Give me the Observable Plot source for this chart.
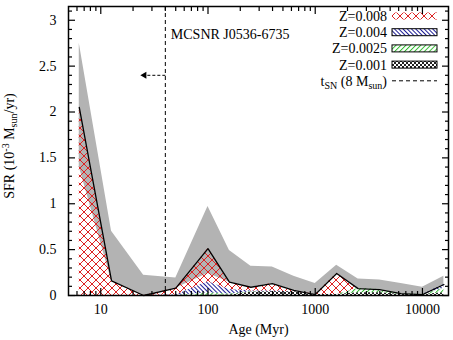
<!DOCTYPE html>
<html><head><meta charset="utf-8">
<script src="https://cdn.jsdelivr.net/npm/d3@7"></script>
<script src="https://cdn.jsdelivr.net/npm/@observablehq/plot@0.6"></script>
<style>body{margin:0;background:#fff} svg text{font-family:"Liberation Serif",serif}</style>
</head><body><div id="chart"></div>
<script>
// ---- data ----
const ages   = [6.3, 12.6, 25.1, 50.1, 100, 158.5, 251.2, 398.1, 631, 1000, 1585, 2512, 3981, 6310, 10000, 15849];
const total  = [2.05, 0.16, 0.0, 0.08, 0.51, 0.145, 0.09, 0.13, 0.055, 0.01, 0.24, 0.075, 0.065, 0.02, 0.01, 0.12];
const upper  = [2.75, 0.70, 0.22, 0.19, 0.97, 0.49, 0.32, 0.31, 0.21, 0.13, 0.33, 0.18, 0.17, 0.13, 0.09, 0.21];
const lower  = [1.40, 0.16, 0.0, 0.08, 0.24, 0.145, 0.09, 0.13, 0.055, 0.01, 0.24, 0.075, 0.065, 0.02, 0.01, 0.12];
const metallicities = ["Z=0.001", "Z=0.0025", "Z=0.004", "Z=0.008"];
const sfrZ001  = [0, 0, 0, 0, 0, 0.005, 0.035, 0.04, 0.04, 0.01, 0.01, 0.03, 0.03, 0.01, 0.01, 0.03];
const sfrZ0025 = [0, 0, 0, 0, 0.03, 0.01, 0.005, 0, 0, 0, 0, 0.045, 0.035, 0.01, 0, 0.05];
const sfrZ004  = [0, 0, 0, 0.005, 0.12, 0.05, 0.01, 0.01, 0, 0, 0, 0, 0, 0, 0, 0.04];
const sfrZ008  = [2.05, 0.16, 0, 0.075, 0.36, 0.08, 0.04, 0.08, 0.015, 0, 0.23, 0, 0, 0, 0, 0];
const xTicks = [10, 100, 1000, 10000];
const xTickLabels = ["10", "100", "1000", "10000"];
const yTicks = [0, 0.5, 1, 1.5, 2, 2.5, 3];
const yTickLabels = ["0", "0.5", "1", "1.5", "2", "2.5", "3"];
const snAge = 40;
const arrowEndAge = 25.5;
const arrowSFR = 2.4;
const annotation = "MCSNR J0536-6735";
const annotationAge = 45;
const annotationSFR = 2.85;
const legendLabels = ["Z=0.008", "Z=0.004", "Z=0.0025", "Z=0.001"];

// ---- derived tables ----
const band = ages.map((a, i) => ({age: a, lo: lower[i], hi: upper[i], tot: total[i]}));
const series = [sfrZ001, sfrZ0025, sfrZ004, sfrZ008];
const stackRows = [];
series.forEach((arr, k) => arr.forEach((v, i) => stackRows.push({age: ages[i], Z: metallicities[k], sfr: v})));
const xMinor = [];
[1, 10, 100, 1000, 10000].forEach(dec => [2,3,4,5,6,7,8,9].forEach(m => { const v = dec*m; if (v > 5 && v < 17500) xMinor.push(v); }));
const yMinor = d3.range(0, 32).map(i => i/10).filter(v => Math.abs(v*2 - Math.round(v*2)) > 1e-6);

const fills = ["url(#pchk)", "url(#pgrn)", "url(#pblu)", "url(#pred)"];
const font = "Liberation Serif";

const plot = Plot.plot({
  width: 453, height: 340,
  marginLeft: 68, marginRight: 5, marginTop: 6, marginBottom: 45,
  style: {fontFamily: font, fontSize: "14px", background: "white", color: "black"},
  x: {type: "log", domain: [5, 17500], label: null},
  y: {domain: [0, 3.15], label: null},
  color: {domain: metallicities, range: fills},
  marks: [
    Plot.areaY(band, {x: "age", y1: "lo", y2: "hi", fill: "#b3b3b3"}),
    Plot.areaY(stackRows, {x: "age", y: "sfr", z: "Z", fill: "Z"}),
    Plot.lineY(band, {x: "age", y: "tot", stroke: "black", strokeWidth: 1.3}),
    Plot.ruleX([snAge], {stroke: "black", strokeWidth: 1, strokeDasharray: "4,3"}),
    Plot.link([{a: snAge, b: arrowEndAge, s: arrowSFR}], {x1: "a", x2: "b", y1: "s", y2: "s", stroke: "black", strokeDasharray: "3,2"}),
    Plot.dot([{b: arrowEndAge, s: arrowSFR}], {x: "b", y: "s", symbol: "triangle", rotate: -90, r: 2.6, fill: "black", stroke: null}),
    Plot.text([annotation], {x: annotationAge, y: annotationSFR, text: d => d, textAnchor: "start", fontSize: 14, fontFamily: font}),
    // tick labels
    Plot.axisX({anchor: "bottom", ticks: xTicks, tickSize: 0, tickPadding: 9, fontSize: 14, fontFamily: font,
      tickFormat: d => xTickLabels[xTicks.indexOf(d)]}),
    Plot.axisY({anchor: "left", ticks: yTicks, tickSize: 0, tickPadding: 12, fontSize: 14, fontFamily: font,
      tickFormat: d => yTickLabels[yTicks.indexOf(d)]}),
    // inward ticks, mirrored
    Plot.axisX({anchor: "bottom", ticks: xTicks, tickSize: -7, tickFormat: () => "", strokeWidth: 1.2}),
    Plot.axisX({anchor: "top", ticks: xTicks, tickSize: -7, tickFormat: () => "", strokeWidth: 1.2}),
    Plot.axisX({anchor: "bottom", ticks: xMinor, tickSize: -4, tickFormat: () => "", strokeWidth: 1.2}),
    Plot.axisX({anchor: "top", ticks: xMinor, tickSize: -4, tickFormat: () => "", strokeWidth: 1.2}),
    Plot.axisY({anchor: "left", ticks: yTicks, tickSize: -7, tickFormat: () => "", strokeWidth: 1.2}),
    Plot.axisY({anchor: "right", ticks: yTicks, tickSize: -7, tickFormat: () => "", strokeWidth: 1.2}),
    Plot.axisY({anchor: "left", ticks: yMinor, tickSize: -4, tickFormat: () => "", strokeWidth: 1.2}),
    Plot.axisY({anchor: "right", ticks: yMinor, tickSize: -4, tickFormat: () => "", strokeWidth: 1.2}),
    Plot.text(["Age (Myr)"], {frameAnchor: "bottom", dy: 38, text: d => d, fontSize: 14, fontFamily: font}),
    Plot.frame({stroke: "black", strokeWidth: 1.5})
  ]
});
document.getElementById("chart").appendChild(plot);

// ---- hatch patterns ----
const svg = d3.select(plot);
const defs = svg.insert("defs", ":first-child");
const pRed = defs.append("pattern").attr("id", "pred").attr("patternUnits", "userSpaceOnUse").attr("width", 8).attr("height", 8);
pRed.append("path").attr("d", "M0,0L8,8M8,0L0,8").attr("stroke", "#dd2222").attr("stroke-width", 1).attr("fill", "none");
const pBlu = defs.append("pattern").attr("id", "pblu").attr("patternUnits", "userSpaceOnUse").attr("width", 3).attr("height", 3).attr("patternTransform", "rotate(-45)");
pBlu.append("line").attr("x1", 0.5).attr("y1", 0).attr("x2", 0.5).attr("y2", 3).attr("stroke", "#1c1c96").attr("stroke-width", 1);
const pGrn = defs.append("pattern").attr("id", "pgrn").attr("patternUnits", "userSpaceOnUse").attr("width", 3.5).attr("height", 3.5).attr("patternTransform", "rotate(45)");
pGrn.append("line").attr("x1", 0.5).attr("y1", 0).attr("x2", 0.5).attr("y2", 3.5).attr("stroke", "#33bb33").attr("stroke-width", 1);
const pChk = defs.append("pattern").attr("id", "pchk").attr("patternUnits", "userSpaceOnUse").attr("width", 4).attr("height", 4);
pChk.append("rect").attr("x", 0).attr("y", 0).attr("width", 2).attr("height", 2).attr("fill", "#222");
pChk.append("rect").attr("x", 2).attr("y", 2).attr("width", 2).attr("height", 2).attr("fill", "#222");

// ---- legend ----
const legendFills = ["url(#pred)", "url(#pblu)", "url(#pgrn)", "url(#pchk)"];
const legendBorders = ["none", "black", "black", "black"];
const lg = svg.append("g").attr("font-family", font).attr("font-size", 14).attr("fill", "black");
legendLabels.forEach((lab, i) => {
  const cy = 16 + 16.2 * i;
  lg.append("text").attr("x", 387).attr("y", cy).attr("dy", "0.35em").attr("text-anchor", "end").text(lab);
  lg.append("rect").attr("x", 392).attr("y", cy - 3.5).attr("width", 45).attr("height", 7)
    .attr("fill", legendFills[i]).attr("stroke", legendBorders[i]).attr("stroke-width", 1);
});
{
  const cy = 16 + 16.2 * 4;
  const t = lg.append("text").attr("x", 387).attr("y", cy).attr("dy", "0.35em").attr("text-anchor", "end");
  t.append("tspan").text("t");
  t.append("tspan").attr("dy", 3).attr("font-size", 10).text("SN");
  t.append("tspan").attr("dy", -3).text(" (8 M");
  t.append("tspan").attr("dy", 3).attr("font-size", 10).text("sun");
  t.append("tspan").attr("dy", -3).text(")");
  lg.append("line").attr("x1", 392).attr("x2", 437).attr("y1", cy).attr("y2", cy)
    .attr("stroke", "black").attr("stroke-dasharray", "4,3");
}

// ---- y axis title ----
const yt = svg.append("text").attr("transform", "translate(14,146) rotate(-90)")
  .attr("text-anchor", "middle").attr("font-family", font).attr("font-size", 14).attr("fill", "black");
yt.append("tspan").text("SFR (10");
yt.append("tspan").attr("dy", -5).attr("font-size", 10).text("-3");
yt.append("tspan").attr("dy", 5).text(" M");
yt.append("tspan").attr("dy", 3).attr("font-size", 10).text("sun");
yt.append("tspan").attr("dy", -3).text("/yr)");
</script>
</body></html>
